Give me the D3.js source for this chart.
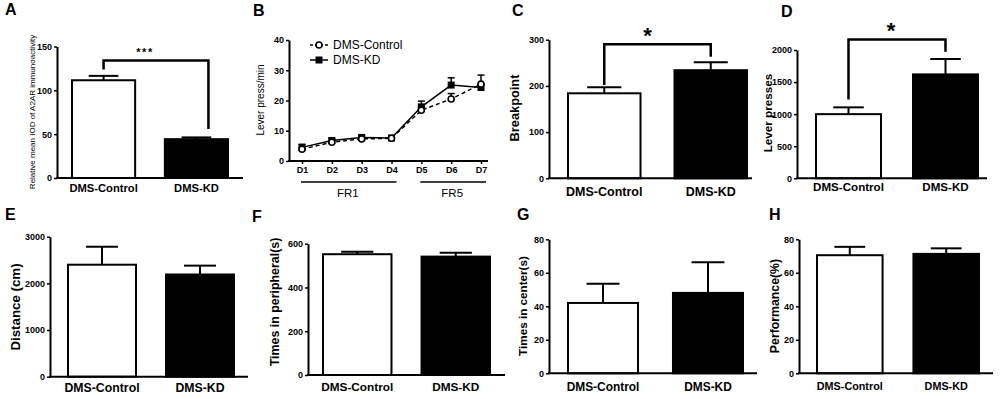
<!DOCTYPE html>
<html><head><meta charset="utf-8">
<script src="https://cdn.jsdelivr.net/npm/d3@7"></script>
<style>
body{margin:0;background:#fff;}
svg{display:block;font-family:"Liberation Sans",Arial,sans-serif;}
</style></head><body>
<svg id="chart" width="1000" height="399"></svg>
<script>
// ---------- DATA ----------
const groups = ["DMS-Control", "DMS-KD"];

const aMeans = [111.5, 44.3], aErr = [5, 2], aTicks = [0, 50, 100, 150];
const cMeans = [184, 234], cErr = [13, 17], cTicks = [0, 100, 200, 300];
const dMeans = [1000, 1620], dErr = [106, 240], dTicks = [0, 500, 1000, 1500, 2000];
const eMeans = [2400, 2190], eErr = [385, 190], eTicks = [0, 1000, 2000, 3000];
const fMeans = [552, 541], fErr = [11, 18], fTicks = [0, 200, 400, 600];
const gMeans = [42, 48], gErr = [11.5, 18.3], gTicks = [0, 20, 40, 60, 80];
const hMeans = [70.5, 71.3], hErr = [5, 3.3], hTicks = [0, 20, 40, 60, 80];

const days = ["D1", "D2", "D3", "D4", "D5", "D6", "D7"];
const bControl = [3.9, 6.2, 7.3, 7.5, 16.8, 20.5, 25.4];
const bControlErr = [0.6, 0.5, 0.5, 0.5, 1.0, 1.8, 3.0];
const bKD = [4.5, 6.8, 7.8, 7.6, 17.9, 25.1, 24.3];
const bKDErr = [1.0, 0.6, 0.6, 0.5, 1.9, 2.4, 1.0];
const bTicks = [0, 10, 20, 30, 40];
const phases = [{label: "FR1", from: "D1", to: "D4"}, {label: "FR5", from: "D5", to: "D7"}];
const legendNames = ["DMS-Control", "DMS-KD"];

// ---------- DRAW ----------
const svg = d3.select("#chart");
const FONT = '"Liberation Sans",Arial,sans-serif';
const fmt = d3.format("d");

function panelLetter(t, x, y) {
  svg.append("text").attr("x", x).attr("y", y).attr("font-size", 16).attr("font-weight", "bold").text(t);
}

function styleAxis(ax) {
  ax.attr("font-family", FONT).attr("font-size", 9).attr("font-weight", "bold");
  ax.select(".domain").attr("stroke", "#000").attr("stroke-width", 2);
  ax.selectAll(".tick line").attr("stroke", "#000").attr("stroke-width", 1.5);
  ax.selectAll(".tick text").attr("fill", "#000");
}

function barPanel(c) {
  const g = svg.append("g");
  const y = d3.scaleLinear().domain([0, c.max]).range([c.yBase, c.yTop]);
  const x = d3.scaleBand().domain(groups).range([c.b0, c.b1]).paddingInner(c.pi).paddingOuter(0);
  const bw = x.bandwidth();
  const data = groups.map((k, i) => ({k, v: c.means[i], e: c.errs[i], i}));

  // error bars (upward)
  data.forEach(d => {
    const cx = x(d.k) + bw / 2;
    g.append("line").attr("x1", cx).attr("x2", cx).attr("y1", y(d.v)).attr("y2", y(d.v + d.e))
      .attr("stroke", "#000").attr("stroke-width", 2);
    g.append("line").attr("x1", cx - bw * 0.235).attr("x2", cx + bw * 0.235)
      .attr("y1", y(d.v + d.e)).attr("y2", y(d.v + d.e)).attr("stroke", "#000").attr("stroke-width", 2);
  });
  // bars
  g.selectAll("rect.bar").data(data).join("rect").attr("class", "bar")
    .attr("x", d => x(d.k)).attr("y", d => y(d.v)).attr("width", bw).attr("height", d => y(0) - y(d.v))
    .attr("fill", d => d.i ? "#000" : "#fff").attr("stroke", "#000").attr("stroke-width", 2);

  // y axis
  const ax = g.append("g").attr("transform", `translate(${c.x0},0)`)
    .call(d3.axisLeft(y).tickValues(c.ticks).tickFormat(fmt).tickSize(3).tickSizeOuter(0).tickPadding(2));
  styleAxis(ax);
  // x axis
  g.append("line").attr("x1", c.x0 - 1).attr("x2", c.x1).attr("y1", y(0)).attr("y2", y(0))
    .attr("stroke", "#000").attr("stroke-width", 2);
  // x labels
  g.selectAll("text.xl").data(groups).join("text").attr("class", "xl")
    .attr("x", d => x(d) + bw / 2).attr("y", c.xLabelY).attr("text-anchor", "middle")
    .attr("font-size", c.xFont).attr("font-weight", "bold").text(d => d);
  // y label
  g.append("text").attr("transform", `translate(${c.yLabelX},${c.yLabelY}) rotate(-90)`)
    .attr("text-anchor", "middle").attr("dy", "0.35em").attr("font-size", c.yFont)
    .attr("font-weight", c.yWeight || "bold").text(c.yLabel);

  // significance bracket
  if (c.sig) {
    const s = c.sig;
    const lx = x(groups[0]) + bw / 2 + (s.lOff || 0);
    const rx = x(groups[1]) + bw / 2 + (s.rOff || 0);
    g.append("path").attr("d", `M${lx},${y(s.left)}V${y(s.top)}H${rx}V${y(s.right)}`)
      .attr("fill", "none").attr("stroke", "#000").attr("stroke-width", 2.5);
    g.append("text").attr("x", (lx + rx) / 2 + (s.tOff || 0)).attr("y", s.textY).attr("text-anchor", "middle")
      .attr("font-size", s.font).attr("font-weight", "bold").attr("letter-spacing", s.ls || 0).text(s.text);
  }
  panelLetter(c.letter, c.lx, c.ly);
}

barPanel({letter: "A", lx: 5, ly: 15, means: aMeans, errs: aErr, ticks: aTicks, max: 150,
  x0: 57, x1: 243, b0: 72, b1: 228, pi: 0.32, yBase: 178, yTop: 46.5,
  xLabelY: 192, xFont: 11.2, yLabel: "Relative mean IOD of A2AR immunoactivity",
  yLabelX: 32, yLabelY: 112, yFont: 8, yWeight: "normal",
  sig: {text: "***", top: 134, left: 123.7, right: 56, rOff: 12, textY: 56, font: 11, ls: 1.5, tOff: -11}});

barPanel({letter: "C", lx: 512, ly: 16, means: cMeans, errs: cErr, ticks: cTicks, max: 300,
  x0: 549, x1: 752, b0: 568, b1: 747, pi: 0.319, yBase: 178.3, yTop: 39.7,
  xLabelY: 196, xFont: 12.5, yLabel: "Breakpoint", yLabelX: 515, yLabelY: 108, yFont: 12.8,
  sig: {text: "*", top: 290, left: 202, right: 263, textY: 43, font: 22, tOff: -10}});

barPanel({letter: "D", lx: 781, ly: 16.7, means: dMeans, errs: dErr, ticks: dTicks, max: 2000,
  x0: 797, x1: 987, b0: 816, b1: 978, pi: 0.33, yBase: 178.3, yTop: 50,
  xLabelY: 191, xFont: 11.6, yLabel: "Lever presses", yLabelX: 768, yLabelY: 113, yFont: 11.7,
  sig: {text: "*", top: 2165, left: 1230, right: 1972, textY: 38, font: 22, tOff: -6}});

barPanel({letter: "E", lx: 5, ly: 220, means: eMeans, errs: eErr, ticks: eTicks, max: 3000,
  x0: 50, x1: 248, b0: 68, b1: 234, pi: 0.306, yBase: 376.7, yTop: 236.7,
  xLabelY: 392, xFont: 12.3, yLabel: "Distance (cm)", yLabelX: 15, yLabelY: 307, yFont: 13.3});

barPanel({letter: "F", lx: 252, ly: 221.7, means: fMeans, errs: fErr, ticks: fTicks, max: 600,
  x0: 308, x1: 505, b0: 323, b1: 490, pi: 0.305, yBase: 375, yTop: 243.7,
  xLabelY: 391, xFont: 11.8, yLabel: "Times in peripheral(s)", yLabelX: 275, yLabelY: 302, yFont: 12.4});

barPanel({letter: "G", lx: 517, ly: 220, means: gMeans, errs: gErr, ticks: gTicks, max: 80,
  x0: 549, x1: 757, b0: 568, b1: 743, pi: 0.333, yBase: 373.3, yTop: 239.3,
  xLabelY: 391, xFont: 11.9, yLabel: "Times in center(s)", yLabelX: 523, yLabelY: 306, yFont: 11.7});

barPanel({letter: "H", lx: 769, ly: 220, means: hMeans, errs: hErr, ticks: hTicks, max: 80,
  x0: 799, x1: 993, b0: 817, b1: 979, pi: 0.32, yBase: 373.3, yTop: 239.3,
  xLabelY: 390, xFont: 10.8, yLabel: "Performance(%)", yLabelX: 775, yLabelY: 306, yFont: 12.3});

// ---------- Panel B ----------
(function () {
  const g = svg.append("g");
  const y = d3.scaleLinear().domain([0, 40]).range([161, 40]);
  const x = d3.scalePoint().domain(days).range([302, 481]);

  const ax = g.append("g").attr("transform", "translate(289,0)")
    .call(d3.axisLeft(y).tickValues(bTicks).tickFormat(fmt).tickSize(3).tickSizeOuter(0).tickPadding(2));
  styleAxis(ax);
  const xa = g.append("g").attr("transform", `translate(0,${y(0)})`)
    .call(d3.axisBottom(x).tickSize(3).tickSizeOuter(0).tickPadding(3));
  styleAxis(xa);
  xa.select(".domain").attr("d", `M288,0H488`);

  const series = [
    {vals: bKD, errs: bKDErr, dash: null, marker: "square"},
    {vals: bControl, errs: bControlErr, dash: "4,3", marker: "circle"}
  ];
  const line = d3.line().x((d, i) => x(days[i])).y(d => y(d));
  series.forEach(s => {
    s.vals.forEach((v, i) => {
      const cx = x(days[i]);
      g.append("line").attr("x1", cx).attr("x2", cx).attr("y1", y(v)).attr("y2", y(v + s.errs[i]))
        .attr("stroke", "#000").attr("stroke-width", 1.5);
      g.append("line").attr("x1", cx - 3.5).attr("x2", cx + 3.5).attr("y1", y(v + s.errs[i])).attr("y2", y(v + s.errs[i]))
        .attr("stroke", "#000").attr("stroke-width", 1.5);
    });
  });
  series.forEach(s => {
    g.append("path").attr("d", line(s.vals)).attr("fill", "none").attr("stroke", "#000")
      .attr("stroke-width", 1.5).attr("stroke-dasharray", s.dash);
  });
  function marker(sel, type, cx, cy) {
    if (type === "circle") sel.append("circle").attr("cx", cx).attr("cy", cy).attr("r", 3)
      .attr("fill", "#fff").attr("stroke", "#000").attr("stroke-width", 1.6);
    else sel.append("rect").attr("x", cx - 3.5).attr("y", cy - 3.5).attr("width", 7).attr("height", 7).attr("fill", "#000");
  }
  series.forEach(s => s.vals.forEach((v, i) => marker(g, s.marker, x(days[i]), y(v))));

  // phase underlines
  phases.forEach(p => {
    const x1 = x(p.from) - 1, x2 = x(p.to) + 5;
    g.append("line").attr("x1", x1).attr("x2", x2).attr("y1", 182).attr("y2", 182)
      .attr("stroke", "#000").attr("stroke-width", 1.5);
    g.append("text").attr("x", (x(p.from) + x(p.to)) / 2 + 1).attr("y", 197).attr("text-anchor", "middle")
      .attr("font-size", 11.5).text(p.label);
  });

  // y label
  g.append("text").attr("transform", "translate(260,100) rotate(-90)").attr("text-anchor", "middle")
    .attr("dy", "0.35em").attr("font-size", 10).text("Lever press/min");

  // legend
  const leg = [{name: legendNames[0], marker: "circle", dash: "3,2"}, {name: legendNames[1], marker: "square", dash: null}];
  leg.forEach((l, i) => {
    const ly = 45 + i * 15;
    g.append("line").attr("x1", 310).attr("x2", 328).attr("y1", ly).attr("y2", ly)
      .attr("stroke", "#000").attr("stroke-width", 1.5).attr("stroke-dasharray", l.dash);
    marker(g, l.marker, 319, ly);
    g.append("text").attr("x", 333).attr("y", ly).attr("dy", "0.35em").attr("font-size", 12).text(l.name);
  });
  panelLetter("B", 253, 16);
})();
</script>
</body></html>
